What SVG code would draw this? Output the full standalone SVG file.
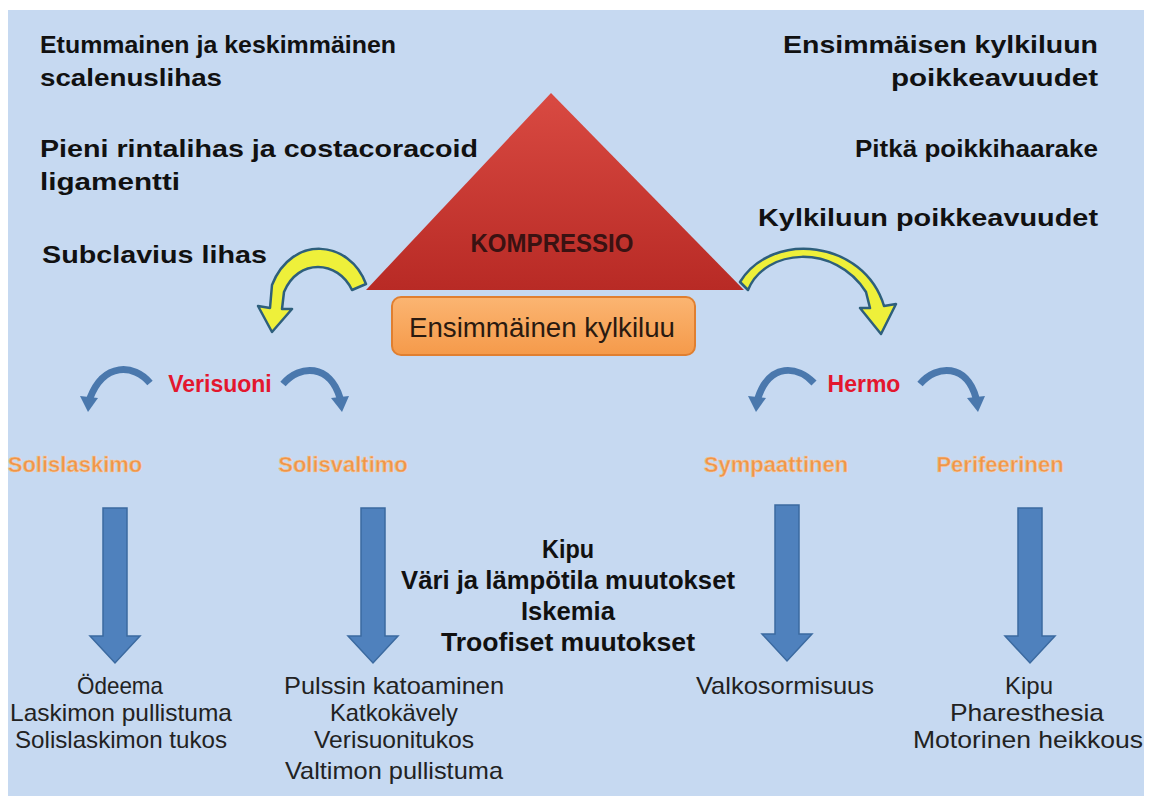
<svg xmlns="http://www.w3.org/2000/svg" width="1152" height="796" viewBox="0 0 1152 796">
<defs>
<linearGradient id="tri" x1="0" y1="0" x2="0" y2="1">
<stop offset="0" stop-color="#d94a42"/><stop offset="1" stop-color="#b82a25"/>
</linearGradient>
<linearGradient id="box" x1="0" y1="0" x2="0" y2="1">
<stop offset="0" stop-color="#fbb572"/><stop offset="1" stop-color="#f59a4a"/>
</linearGradient>
<style>
.hd{font-family:"Liberation Sans",Arial,sans-serif;font-weight:bold;font-size:24px;fill:#111}
.red{font-family:"Liberation Sans",Arial,sans-serif;font-weight:bold;font-size:23px;fill:#e3172e;text-anchor:middle}
.org{font-family:"Liberation Sans",Arial,sans-serif;font-weight:bold;font-size:22px;fill:#ef9548;stroke:#f6c9a0;stroke-width:0.6;text-anchor:middle}
.nar{font-family:"Liberation Sans",Arial,sans-serif;font-size:24px;fill:#222;text-anchor:middle}
.nb{font-family:"Liberation Sans",Arial,sans-serif;font-weight:bold;font-size:25px;fill:#111;text-anchor:middle}
.yel{fill:#eef03a;stroke:#2e5f7c;stroke-width:2.5;stroke-linejoin:round}
.blu{fill:#4f81bd;stroke:#3b6aa0;stroke-width:1.5}
.arc{fill:none;stroke:#4a78ad;stroke-width:7;stroke-linecap:butt}
</style>
</defs>
<rect x="8" y="10" width="1136" height="786" fill="#c6d9f1"/>

<g id="left-causes">
<text class="hd" x="40" y="53" textLength="356" lengthAdjust="spacingAndGlyphs">Etummainen ja keskimmäinen</text>
<text class="hd" x="40" y="86" textLength="182" lengthAdjust="spacingAndGlyphs">scalenuslihas</text>
<text class="hd" x="40" y="157" textLength="438" lengthAdjust="spacingAndGlyphs">Pieni rintalihas ja costacoracoid</text>
<text class="hd" x="40" y="190" textLength="140" lengthAdjust="spacingAndGlyphs">ligamentti</text>
<text class="hd" x="42" y="263" textLength="225" lengthAdjust="spacingAndGlyphs">Subclavius lihas</text>
</g>
<g id="right-causes" style="text-anchor:end">
<text class="hd" x="1098" y="53" textLength="315" lengthAdjust="spacingAndGlyphs">Ensimmäisen kylkiluun</text>
<text class="hd" x="1098" y="86" textLength="207" lengthAdjust="spacingAndGlyphs">poikkeavuudet</text>
<text class="hd" x="1098" y="157" textLength="243" lengthAdjust="spacingAndGlyphs">Pitkä poikkihaarake</text>
<text class="hd" x="1098" y="226" textLength="340" lengthAdjust="spacingAndGlyphs">Kylkiluun poikkeavuudet</text>
</g>

<g id="kompressio">
<polygon points="551,93 366,290 744,290" fill="url(#tri)"/>
<text x="552" y="252" font-family="Liberation Sans,Arial,sans-serif" font-weight="bold" font-size="25" fill="#3a1212" text-anchor="middle" textLength="163" lengthAdjust="spacingAndGlyphs">KOMPRESSIO</text>
</g>

<g id="ensimmainen">
<rect x="392" y="297" width="303" height="58" rx="9" fill="url(#box)" stroke="#e07f30" stroke-width="2"/>
<text x="542" y="337" font-family="Liberation Sans,Arial,sans-serif" font-size="27" fill="#2a1a10" text-anchor="middle" textLength="266" lengthAdjust="spacingAndGlyphs">Ensimmäinen kylkiluu</text>
</g>

<g id="connectors">
<path class="yel" d="M366,284 C350,240 292,234 272,285 L270,308 L258,306 L272,332 L292,309 L282,309 L284,292 C298,258 338,260 352,290 Z"/>
<path class="yel" d="M748,290 C765,248 835,243 866,292 L870,308 L860,308 L881,334 L896,304 L884,306 C864,240 772,230 740,282 Z"/>

<path class="arc" d="M150,383 C134,364 104,362 90,398"/>
<polygon points="80,396 98,398 88,412" fill="#4a78ad"/>
<path class="arc" d="M283,384 C300,364 330,364 340,398"/>
<polygon points="331,398 349,396 342,412" fill="#4a78ad"/>
<path class="arc" d="M814,383 C798,366 770,362 758,398"/>
<polygon points="748,396 766,398 756,412" fill="#4a78ad"/>
<path class="arc" d="M920,384 C937,364 967,364 976,398"/>
<polygon points="967,398 985,396 978,412" fill="#4a78ad"/>

<polygon class="blu" points="103,508 127,508 127,636 140,636 115,663 90,636 103,636"/>
<polygon class="blu" points="361,508 385,508 385,636 398,636 373,663 348,636 361,636"/>
<polygon class="blu" points="775,505 799,505 799,634 812,634 787,661 762,634 775,634"/>
<polygon class="blu" points="1018,508 1042,508 1042,636 1055,636 1030,663 1005,636 1018,636"/>
</g>

<g id="verisuoni"><text class="red" x="220" y="392">Verisuoni</text></g>
<g id="hermo"><text class="red" x="864" y="392">Hermo</text></g>

<g id="solislaskimo"><text class="org" x="75" y="472">Solislaskimo</text></g>
<g id="solisvaltimo"><text class="org" x="343" y="472">Solisvaltimo</text></g>
<g id="sympaattinen"><text class="org" x="776" y="472">Sympaattinen</text></g>
<g id="perifeerinen"><text class="org" x="1000" y="472">Perifeerinen</text></g>

<g id="yhteiset">
<text class="nb" x="568" y="558" textLength="52" lengthAdjust="spacingAndGlyphs">Kipu</text>
<text class="nb" x="568" y="589" textLength="334" lengthAdjust="spacingAndGlyphs">Väri ja lämpötila muutokset</text>
<text class="nb" x="568" y="620" textLength="94" lengthAdjust="spacingAndGlyphs">Iskemia</text>
<text class="nb" x="568" y="651" textLength="254" lengthAdjust="spacingAndGlyphs">Troofiset muutokset</text>
</g>

<g id="oireet-laskimo">
<text class="nar" x="120" y="694" textLength="86" lengthAdjust="spacingAndGlyphs">Ödeema</text>
<text class="nar" x="121" y="721" textLength="222" lengthAdjust="spacingAndGlyphs">Laskimon pullistuma</text>
<text class="nar" x="121" y="748" textLength="212" lengthAdjust="spacingAndGlyphs">Solislaskimon tukos</text>
</g>
<g id="oireet-valtimo">
<text class="nar" x="394" y="694" textLength="220" lengthAdjust="spacingAndGlyphs">Pulssin katoaminen</text>
<text class="nar" x="394" y="721" textLength="128" lengthAdjust="spacingAndGlyphs">Katkokävely</text>
<text class="nar" x="394" y="748" textLength="160" lengthAdjust="spacingAndGlyphs">Verisuonitukos</text>
<text class="nar" x="394" y="779" textLength="218" lengthAdjust="spacingAndGlyphs">Valtimon pullistuma</text>
</g>
<g id="oireet-sympaattinen">
<text class="nar" x="785" y="694" textLength="178" lengthAdjust="spacingAndGlyphs">Valkosormisuus</text>
</g>
<g id="oireet-perifeerinen">
<text class="nar" x="1029" y="694" textLength="48" lengthAdjust="spacingAndGlyphs">Kipu</text>
<text class="nar" x="1027" y="721" textLength="154" lengthAdjust="spacingAndGlyphs">Pharesthesia</text>
<text class="nar" x="1028" y="748" textLength="230" lengthAdjust="spacingAndGlyphs">Motorinen heikkous</text>
</g>
</svg>
